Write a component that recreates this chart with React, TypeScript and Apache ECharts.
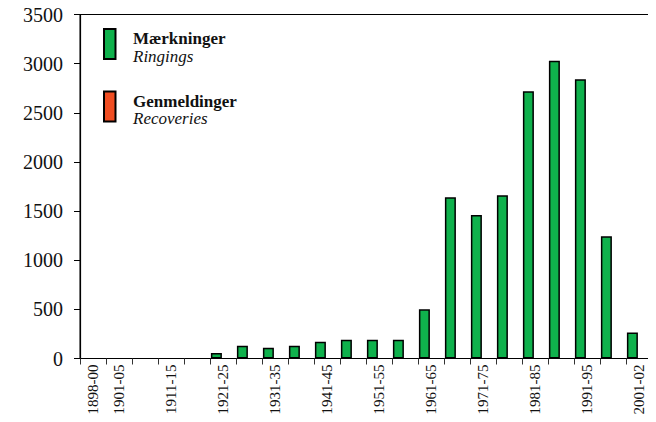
import React, { useEffect, useRef } from "react";
import * as echarts from "echarts";

const categories = [
  "1898-00", "1901-05", "1906-10", "1911-15", "1916-20", "1921-25", "1926-30",
  "1931-35", "1936-40", "1941-45", "1946-50", "1951-55", "1956-60", "1961-65",
  "1966-70", "1971-75", "1976-80", "1981-85", "1986-90", "1991-95", "1996-00",
  "2001-02",
];
const ringings = [0, 0, 0, 0, 0, 55, 130, 110, 130, 170, 190, 190, 190, 500, 1640, 1460, 1660, 2720, 3030, 2840, 1245, 265];
const recoveries = [0, 0, 0, 0, 0, 0, 0, 0, 0, 0, 0, 0, 0, 0, 0, 0, 0, 0, 0, 0, 0, 0];
const seriesNamesDa = ["Mærkninger", "Genmeldinger"];
const seriesNamesEn = ["Ringings", "Recoveries"];
const colors = ["#0fb14c", "#f04e23"];
const yMin = 0;
const yMax = 3500;
const yStep = 500;

const SERIF = "Liberation Serif";

export default function App() {
  const ref = useRef<HTMLDivElement>(null);
  useEffect(() => {
    if (!ref.current) return;
    const chart = echarts.init(ref.current, null, { renderer: "svg" });
    const legendY = [29, 91.5];
    const graphic: any[] = [];
    seriesNamesDa.forEach((n, i) => {
      graphic.push({
        type: "rect",
        shape: { x: 104, y: legendY[i], width: 11.5, height: 30 },
        style: { fill: colors[i], stroke: "#000", lineWidth: 2 },
      });
      graphic.push({
        type: "text",
        x: 133,
        y: legendY[i] + 1,
        style: {
          text: n,
          fontFamily: SERIF,
          fontWeight: "bold",
          fontSize: 17,
          lineHeight: 17,
          fill: "#111",
          verticalAlign: "top",
        },
      });
      graphic.push({
        type: "text",
        x: 133,
        y: legendY[i] + 18.5,
        style: {
          text: seriesNamesEn[i],
          fontFamily: SERIF,
          fontStyle: "italic",
          fontSize: 17,
          lineHeight: 17,
          fill: "#111",
          verticalAlign: "top",
        },
      });
    });
    const toData = (arr: number[]) => arr.map((v) => (v === 0 ? "-" : v));
    chart.setOption({
      animation: false,
      grid: {
        left: 80,
        right: 4,
        top: 14.5,
        bottom: 63.5,
        show: true,
        borderColor: "#000",
        borderWidth: 1,
        containLabel: false,
      },
      xAxis: {
        type: "category",
        data: categories,
        axisLine: { lineStyle: { color: "#000", width: 1.2 } },
        axisTick: { show: true, interval: 0, length: 6, lineStyle: { color: "#333" } },
        axisLabel: {
          interval: (index: number) => index === 0 || index % 2 === 1,
          rotate: 90,
          margin: 6,
          color: "#111",
          fontFamily: SERIF,
          fontSize: 15,
        },
      },
      yAxis: {
        type: "value",
        min: yMin,
        max: yMax,
        interval: yStep,
        splitLine: { show: false },
        axisLine: { show: true, lineStyle: { color: "#000", width: 1.2 } },
        axisTick: { show: true, length: 6, lineStyle: { color: "#000" } },
        axisLabel: {
          margin: 17,
          color: "#111",
          fontFamily: SERIF,
          fontSize: 20,
          formatter: (v: number) => String(v),
        },
      },
      series: [
        {
          name: seriesNamesDa[0],
          type: "bar",
          data: toData(ringings),
          barWidth: 11,
          barGap: "20%",
          itemStyle: { color: colors[0], borderColor: "#000", borderWidth: 1.5 },
        },
        {
          name: seriesNamesDa[1],
          type: "bar",
          data: toData(recoveries),
          barWidth: 11,
          barGap: "20%",
          itemStyle: { color: colors[1], borderColor: "#000", borderWidth: 1.5 },
        },
      ],
      graphic,
    });
    return () => chart.dispose();
  }, []);
  return <div ref={ref} style={{ width: 656, height: 422, margin: -8 }} />;
}
